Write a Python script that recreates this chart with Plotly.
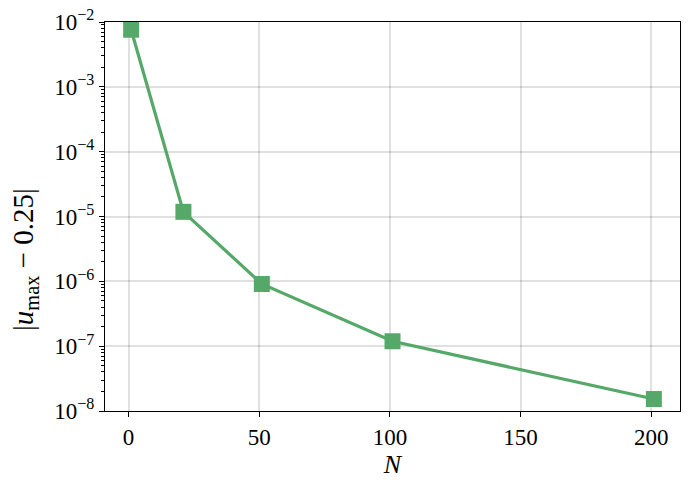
import plotly.graph_objects as go

N_values = [1, 21, 51, 101, 201]
errors = [7.6e-3, 1.18e-5, 9.1e-7, 1.19e-7, 1.53e-8]
x_ticks = [0, 50, 100, 150, 200]
y_ticks = [1e-8, 1e-7, 1e-6, 1e-5, 1e-4, 1e-3, 1e-2]
y_tick_labels = ["10<sup>−8</sup>", "10<sup>−7</sup>", "10<sup>−6</sup>", "10<sup>−5</sup>",
                 "10<sup>−4</sup>", "10<sup>−3</sup>", "10<sup>−2</sup>"]
minor_y_ticks = [m * 10.0 ** e for e in range(-8, -2) for m in range(2, 10)]

GREEN = "#55a868"
FONT = "Liberation Serif"

fig = go.Figure()
fig.add_trace(go.Scatter(
    x=N_values, y=errors, mode="lines+markers",
    line=dict(color=GREEN, width=3.2),
    marker=dict(symbol="square", size=16, color=GREEN),
    showlegend=False,
))

axis_common = dict(
    showline=True, linecolor="black", linewidth=1.3, mirror=True,
    ticks="outside", ticklen=5, tickwidth=1.3, tickcolor="black",
    showgrid=True, gridcolor="rgba(0,0,0,0.12)", gridwidth=1.5,
    zeroline=False, automargin=False,
    tickfont=dict(family=FONT, size=23, color="black"),
)

fig.update_xaxes(
    range=[-9, 211], tickvals=x_ticks,
    title=dict(text="<i>N</i>", font=dict(family=FONT, size=26, color="black"), standoff=6),
    **axis_common,
)
fig.update_yaxes(
    type="log", range=[-8, -2], tickmode="array", tickvals=y_ticks, ticktext=y_tick_labels,
    minor=dict(ticks="outside", ticklen=3, tickwidth=1, tickcolor="black",
               tickvals=minor_y_ticks, showgrid=False),
    **axis_common,
)

fig.add_annotation(
    text="|<i>u</i><sub>max</sub> − 0.25|", textangle=-90,
    xref="paper", yref="paper", x=-0.138, y=0.39, xanchor="center", yanchor="middle",
    showarrow=False, font=dict(family=FONT, size=29, color="black"),
)

fig.update_layout(
    width=690, height=490,
    margin=dict(l=105, r=10, t=22, b=79, autoexpand=False),
    paper_bgcolor="white", plot_bgcolor="white",
    font=dict(family=FONT, color="black"),
)

fig.write_html("out.html", config={"displayModeBar": False},
               post_script="document.body.style.margin='0';")
